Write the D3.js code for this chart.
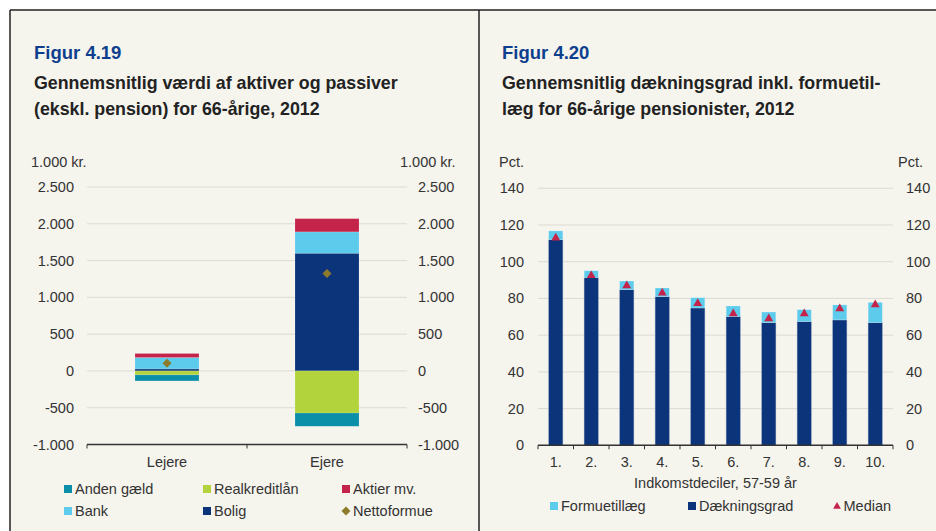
<!DOCTYPE html>
<html>
<head>
<meta charset="utf-8">
<script src="https://cdn.jsdelivr.net/npm/d3@7"></script>
<style>
  body { margin: 0; background: #fff; }
  svg { display: block; font-family: "Liberation Sans", Arial, sans-serif; }
</style>
</head>
<body>
<svg id="chart" width="936" height="531"></svg>
<script>
// Figur 4.19 data (1.000 kr.)
const categories19 = ["Lejere", "Ejere"];
const andenGaeld = [-82, -180];
const realkredit = [-54, -572];
const bolig = [27, 1600];
const bank = [155, 290];
const aktier = [55, 180];
const nettoformue = [105, 1325];
const ticks19 = [-1000, -500, 0, 500, 1000, 1500, 2000, 2500];

// Figur 4.20 data (pct.)
const deciles = ["1.", "2.", "3.", "4.", "5.", "6.", "7.", "8.", "9.", "10."];
const daekningsgrad = [112, 91.3, 84.8, 81, 74.8, 70.1, 66.8, 67.4, 68.3, 66.8];
const formuetillaeg = [4.8, 3.8, 4.7, 4.7, 5.6, 5.8, 5.8, 6.5, 8.2, 11.1];
const median = [113, 92.5, 87, 83, 77.3, 71.7, 69, 71.7, 74.4, 76.6];
const ticks20 = [0, 20, 40, 60, 80, 100, 120, 140];

// dansk talformat: punktum som tusindtalsseparator, alm. bindestreg som minus
const daLocale = d3.formatLocale({ decimal: ",", thousands: ".", grouping: [3], currency: ["", " kr."], minus: "-" });
const daFmt = daLocale.format(",");

const col = {
  anden: "#0b8fa8", real: "#b3d33c", aktier: "#c4234a",
  bank: "#5dcbeb", bolig: "#0b347a", netto: "#8d7b2b",
  grid: "#dcdbd3", axis: "#333", text: "#333", title: "#0e3f8e"
};

let svg = d3.select("#chart");

// ramme + baggrund
svg.append("rect").attr("x", 10).attr("y", 10).attr("width", 926).attr("height", 521).attr("fill", "#f5f4ed");
svg.append("line").attr("x1", 10).attr("x2", 936).attr("y1", 10).attr("y2", 10).attr("stroke", "#222").attr("stroke-width", 1.5);
svg.append("line").attr("x1", 10).attr("x2", 10).attr("y1", 10).attr("y2", 531).attr("stroke", "#222").attr("stroke-width", 1.5);
svg.append("line").attr("x1", 479).attr("x2", 479).attr("y1", 10).attr("y2", 531).attr("stroke", "#222").attr("stroke-width", 1.5);

function titles(x, fig, lines) {
  svg.append("text").attr("x", x).attr("y", 59).text(fig)
    .attr("fill", col.title).style("font-size", "18.5px").style("font-weight", "bold");
  lines.forEach((l, i) => {
    svg.append("text").attr("x", x).attr("y", 89 + i * 26).text(l)
      .attr("fill", "#222").style("font-size", "17.8px").style("font-weight", "bold");
  });
}

titles(34, "Figur 4.19", ["Gennemsnitlig værdi af aktiver og passiver", "(ekskl. pension) for 66-årige, 2012"]);
titles(502, "Figur 4.20", ["Gennemsnitlig dækningsgrad inkl. formuetil-", "læg for 66-årige pensionister, 2012"]);

function yAxes(y, ticks, x0, x1, labL, labR, unit, unitL, unitR) {
  let g = svg.append("g");
  g.selectAll("line.grid").data(ticks).enter().append("line")
    .attr("x1", x0).attr("x2", x1)
    .attr("y1", d => y(d)).attr("y2", d => y(d))
    .attr("stroke", col.grid).attr("stroke-width", 1);
  g.selectAll("text.l").data(ticks).enter().append("text")
    .attr("x", labL).attr("y", d => y(d) + 5).attr("text-anchor", "end")
    .text(d => daFmt(d)).attr("fill", col.text).style("font-size", "14.5px");
  g.selectAll("text.r").data(ticks).enter().append("text")
    .attr("x", labR).attr("y", d => y(d) + 5)
    .text(d => daFmt(d)).attr("fill", col.text).style("font-size", "14.5px");
  g.append("text").attr("x", unitL).attr("y", 167).text(unit).attr("fill", col.text).style("font-size", "14.5px");
  g.append("text").attr("x", unitR).attr("y", 167).text(unit).attr("fill", col.text).style("font-size", "14.5px");
}

// ---------- Figur 4.19 ----------
let x19 = d3.scaleBand().domain(categories19).range([87, 407]).paddingInner(0.6).paddingOuter(0.3);
let y19 = d3.scaleLinear().domain([-1000, 2500]).range([444.5, 187]);
yAxes(y19, ticks19, 87, 407, 74, 418, "1.000 kr.", 31, 400);

let stacks = [];
categories19.forEach((c, i) => {
  let pos = 0, neg = 0;
  [["bolig", bolig], ["bank", bank], ["aktier", aktier]].forEach(([k, arr]) => {
    stacks.push({ c: c, k: k, y0: pos, y1: pos + arr[i] });
    pos += arr[i];
  });
  [["real", realkredit], ["anden", andenGaeld]].forEach(([k, arr]) => {
    stacks.push({ c: c, k: k, y0: neg, y1: neg + arr[i] });
    neg += arr[i];
  });
});

svg.append("g").selectAll("rect").data(stacks).enter().append("rect")
  .attr("x", d => x19(d.c))
  .attr("width", x19.bandwidth())
  .attr("y", d => y19(Math.max(d.y0, d.y1)))
  .attr("height", d => Math.abs(y19(d.y0) - y19(d.y1)))
  .attr("fill", d => col[d.k])
  .attr("stroke", "#ffffff").attr("stroke-opacity", 0.25).attr("stroke-width", 0.6);

svg.append("g").selectAll("path").data(nettoformue).enter().append("path")
  .attr("d", d3.symbol(d3.symbolSquare, 40))
  .attr("transform", (d, i) => `translate(${x19(categories19[i]) + x19.bandwidth() / 2},${y19(d)}) rotate(45)`)
  .attr("fill", col.netto);

// x-akse
let ax19 = svg.append("g");
ax19.append("line").attr("x1", 87).attr("x2", 407).attr("y1", y19(-1000)).attr("y2", y19(-1000)).attr("stroke", col.axis).attr("stroke-width", 1.5);
d3.range(categories19.length + 1).forEach(i => {
  let xx = 87 + i * x19.step();
  ax19.append("line").attr("x1", xx).attr("x2", xx).attr("y1", y19(-1000)).attr("y2", y19(-1000) + 4).attr("stroke", col.axis).attr("stroke-width", 1);
});
ax19.selectAll("text").data(categories19).enter().append("text")
  .attr("x", d => x19(d) + x19.bandwidth() / 2).attr("y", 467).attr("text-anchor", "middle")
  .text(d => d).attr("fill", col.text).style("font-size", "14.5px");

// legend 4.19
const leg19 = [
  { k: "anden", t: "Anden gæld", x: 64, y: 485 },
  { k: "real", t: "Realkreditlån", x: 203, y: 485 },
  { k: "aktier", t: "Aktier mv.", x: 342, y: 485 },
  { k: "bank", t: "Bank", x: 64, y: 507 },
  { k: "bolig", t: "Bolig", x: 203, y: 507 }
];
let lg19 = svg.append("g");
leg19.forEach(d => {
  lg19.append("rect").attr("x", d.x).attr("y", d.y).attr("width", 8).attr("height", 8).attr("fill", col[d.k]);
  lg19.append("text").attr("x", d.x + 11).attr("y", d.y + 8.5).text(d.t).attr("fill", col.text).style("font-size", "14.5px");
});
lg19.append("path").attr("d", d3.symbol(d3.symbolSquare, 40)).attr("transform", "translate(346,511) rotate(45)").attr("fill", col.netto);
lg19.append("text").attr("x", 353).attr("y", 515.5).text("Nettoformue").attr("fill", col.text).style("font-size", "14.5px");

// ---------- Figur 4.20 ----------
let x20 = d3.scaleBand().domain(deciles).range([538, 893]).paddingInner(0.6).paddingOuter(0.3);
let y20 = d3.scaleLinear().domain([0, 140]).range([445.3, 188.3]);
yAxes(y20, ticks20, 538, 893, 524, 906, "Pct.", 499, 898);

let bars20 = svg.append("g");
bars20.selectAll("rect.d").data(daekningsgrad).enter().append("rect")
  .attr("x", (d, i) => x20(deciles[i])).attr("width", x20.bandwidth())
  .attr("y", d => y20(d)).attr("height", d => y20(0) - y20(d))
  .attr("fill", col.bolig).attr("stroke", "#8fa3c8").attr("stroke-opacity", 0.6).attr("stroke-width", 0.6);
bars20.selectAll("rect.f").data(formuetillaeg).enter().append("rect")
  .attr("x", (d, i) => x20(deciles[i])).attr("width", x20.bandwidth())
  .attr("y", (d, i) => y20(daekningsgrad[i] + d)).attr("height", (d, i) => y20(daekningsgrad[i]) - y20(daekningsgrad[i] + d))
  .attr("fill", col.bank).attr("stroke", "#ffffff").attr("stroke-opacity", 0.4).attr("stroke-width", 0.6);

svg.append("g").selectAll("path").data(median).enter().append("path")
  .attr("d", d3.symbol(d3.symbolTriangle, 34))
  .attr("transform", (d, i) => `translate(${x20(deciles[i]) + x20.bandwidth() / 2},${y20(d)})`)
  .attr("fill", col.aktier);

let ax20 = svg.append("g");
ax20.append("line").attr("x1", 538).attr("x2", 893).attr("y1", y20(0)).attr("y2", y20(0)).attr("stroke", col.axis).attr("stroke-width", 1.5);
d3.range(deciles.length + 1).forEach(i => {
  let xx = 538 + i * x20.step();
  ax20.append("line").attr("x1", xx).attr("x2", xx).attr("y1", y20(0)).attr("y2", y20(0) + 4).attr("stroke", col.axis).attr("stroke-width", 1);
});
ax20.selectAll("text").data(deciles).enter().append("text")
  .attr("x", d => x20(d) + x20.bandwidth() / 2).attr("y", 467).attr("text-anchor", "middle")
  .text(d => d).attr("fill", col.text).style("font-size", "14.5px");
ax20.append("text").attr("x", 715.5).attr("y", 488).attr("text-anchor", "middle")
  .text("Indkomstdeciler, 57-59 år").attr("fill", col.text).style("font-size", "14.5px");

let lg20 = svg.append("g");
[{ c: col.bank, t: "Formuetillæg", x: 550 }, { c: col.bolig, t: "Dækningsgrad", x: 688 }].forEach(d => {
  lg20.append("rect").attr("x", d.x).attr("y", 502).attr("width", 8).attr("height", 8).attr("fill", d.c);
  lg20.append("text").attr("x", d.x + 11).attr("y", 510.5).text(d.t).attr("fill", col.text).style("font-size", "14.5px");
});
lg20.append("path").attr("d", d3.symbol(d3.symbolTriangle, 26)).attr("transform", "translate(837,506.5)").attr("fill", col.aktier);
lg20.append("text").attr("x", 843.5).attr("y", 510.5).text("Median").attr("fill", col.text).style("font-size", "14.5px");
</script>
</body>
</html>
